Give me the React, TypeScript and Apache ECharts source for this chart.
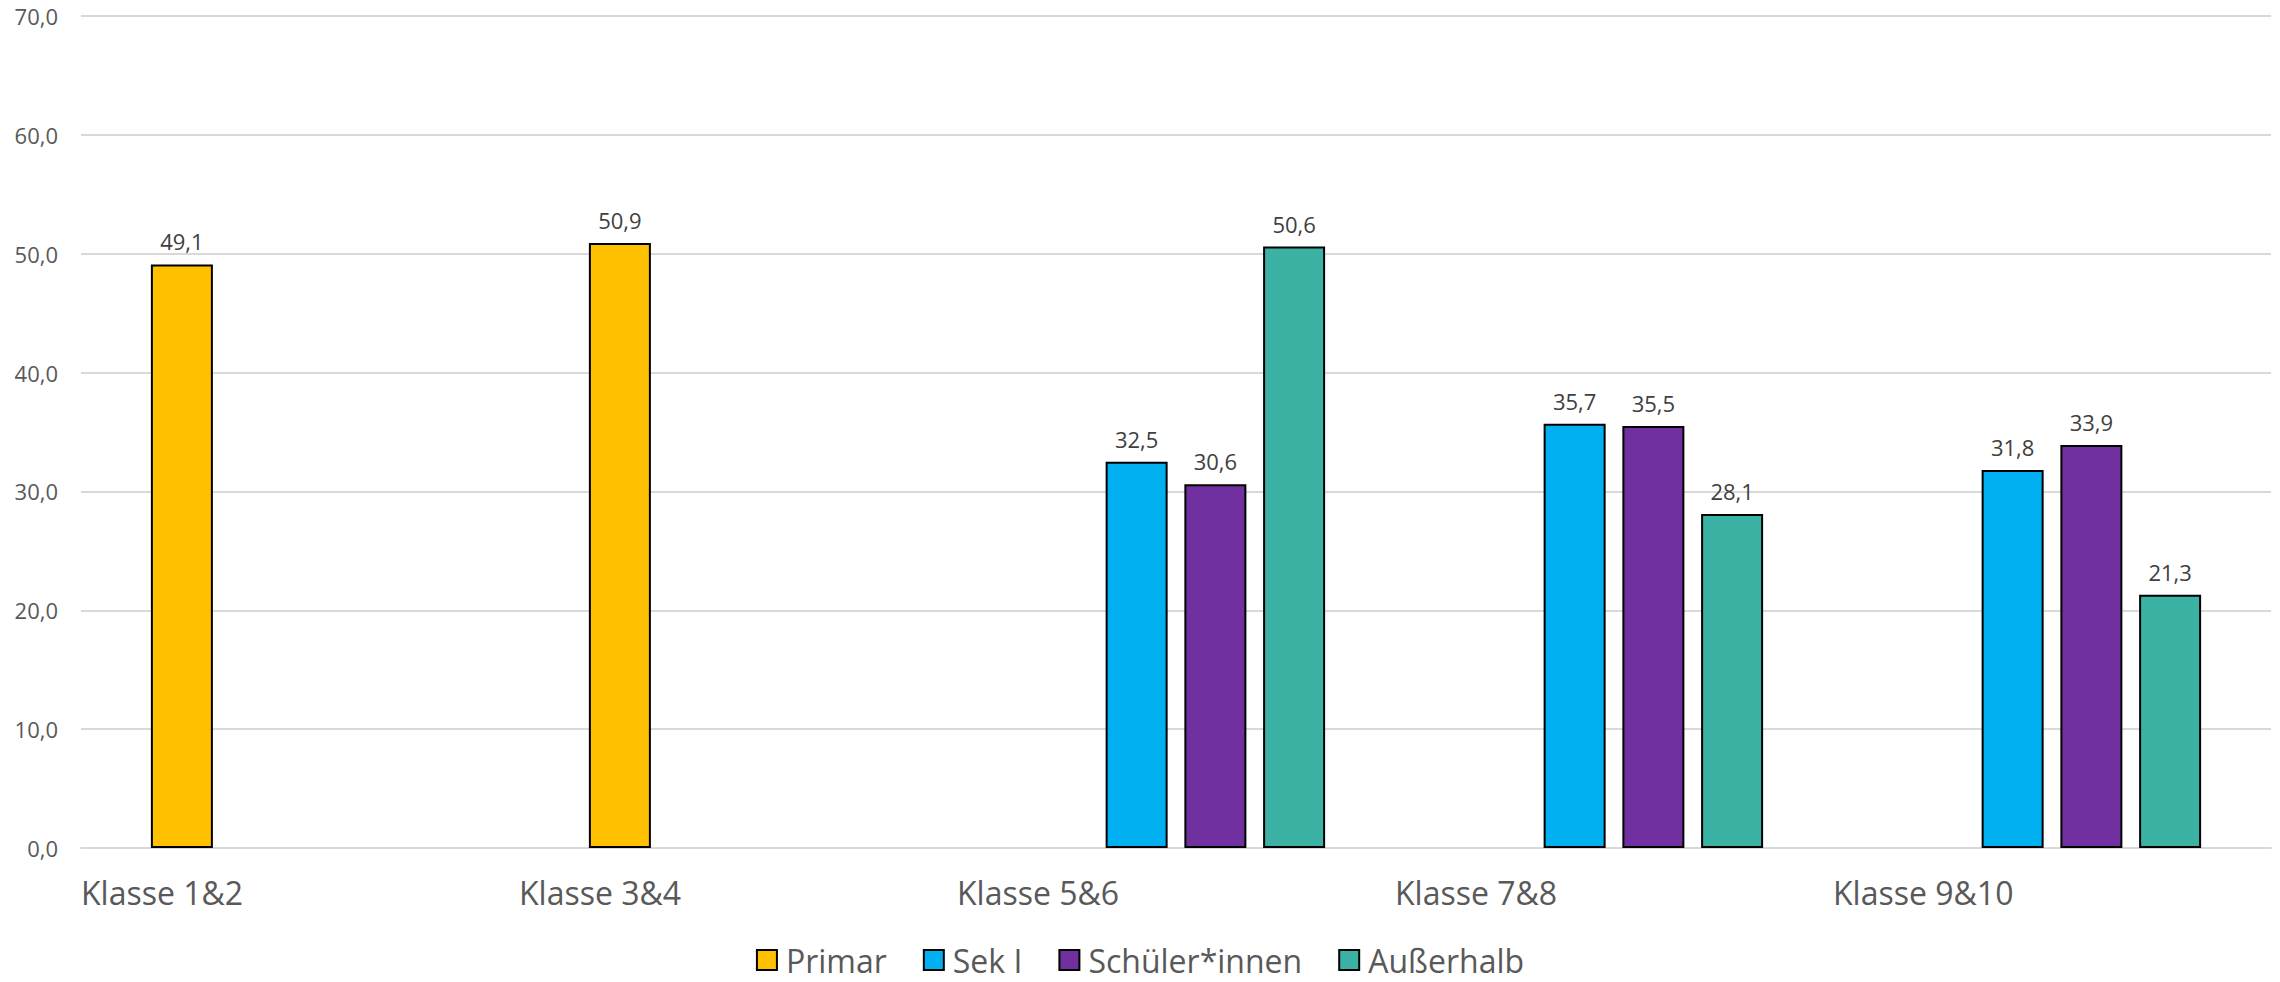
import React, { useEffect, useRef } from "react";
import * as echarts from "echarts";

const categories = ["Klasse 1&2", "Klasse 3&4", "Klasse 5&6", "Klasse 7&8", "Klasse 9&10"];
const seriesNames = ["Primar", "Sek I", "Schüler*innen", "Außerhalb"];
const primar = [49.1, 50.9, null, null, null];
const sekI = [null, null, 32.5, 35.7, 31.8];
const schueler = [null, null, 30.6, 35.5, 33.9];
const ausserhalb = [null, null, 50.6, 28.1, 21.3];
const colors = ["#FFC000", "#00B0F0", "#7030A0", "#3CB2A5"];
const yTicks = { min: 0, max: 70, interval: 10 };

const fmt = (v: number) => v.toFixed(1).replace(".", ",");
const FONT = "Open Sans";

export default function App() {
  const ref = useRef<HTMLDivElement>(null);
  useEffect(() => {
    if (!ref.current) return;
    const chart = echarts.init(ref.current, null, { renderer: "svg" });
    const datasets = [primar, sekI, schueler, ausserhalb];
    chart.setOption({
      animation: false,
      backgroundColor: "#ffffff",
      textStyle: { fontFamily: FONT },
      grid: { left: 81, right: 9, top: 16, bottom: 134, containLabel: false },
      legend: {
        bottom: 1,
        left: "center",
        itemWidth: 20,
        itemHeight: 20,
        itemGap: 36,
        icon: "rect",
        textStyle: { fontFamily: FONT, fontSize: 32, color: "#595959", padding: [0, 0, 0, 4] },
        data: seriesNames,
      },
      xAxis: [
        {
          type: "category",
          data: categories,
          axisLabel: { show: false },
          axisTick: { show: false },
          axisLine: { show: true, lineStyle: { color: "#D9D9D9", width: 2 } },
          splitLine: { show: false },
        },
        {
          type: "value",
          min: 0,
          max: 5,
          interval: 1,
          position: "bottom",
          axisLine: { show: false },
          axisTick: { show: false },
          splitLine: { show: false },
          axisLabel: {
            show: true,
            align: "left",
            margin: 28,
            fontFamily: FONT,
            fontSize: 32,
            color: "#595959",
            formatter: (v: number) => categories[v] ?? "",
          },
        },
      ],
      yAxis: {
        type: "value",
        min: yTicks.min,
        max: yTicks.max,
        interval: yTicks.interval,
        axisLine: { show: false },
        axisTick: { show: false },
        splitLine: { show: true, lineStyle: { color: "#D9D9D9", width: 2 } },
        axisLabel: { fontFamily: FONT, fontSize: 22, color: "#595959", margin: 23, formatter: fmt },
      },
      series: seriesNames.map((name, i) => ({
        name,
        type: "bar",
        xAxisIndex: 0,
        data: datasets[i],
        barWidth: 62,
        barGap: "27%",
        itemStyle: { color: colors[i], borderColor: "#000000", borderWidth: 2 },
        label: {
          show: true,
          position: "top",
          distance: 12,
          fontFamily: FONT,
          fontSize: 22,
          color: "#404040",
          formatter: (p: any) => (p.value == null ? "" : fmt(p.value)),
        },
      })),
    });
    return () => chart.dispose();
  }, []);
  return (
    <div
      ref={ref}
      style={{ position: "fixed", left: 0, top: 0, width: 2280, height: 982 }}
    />
  );
}
